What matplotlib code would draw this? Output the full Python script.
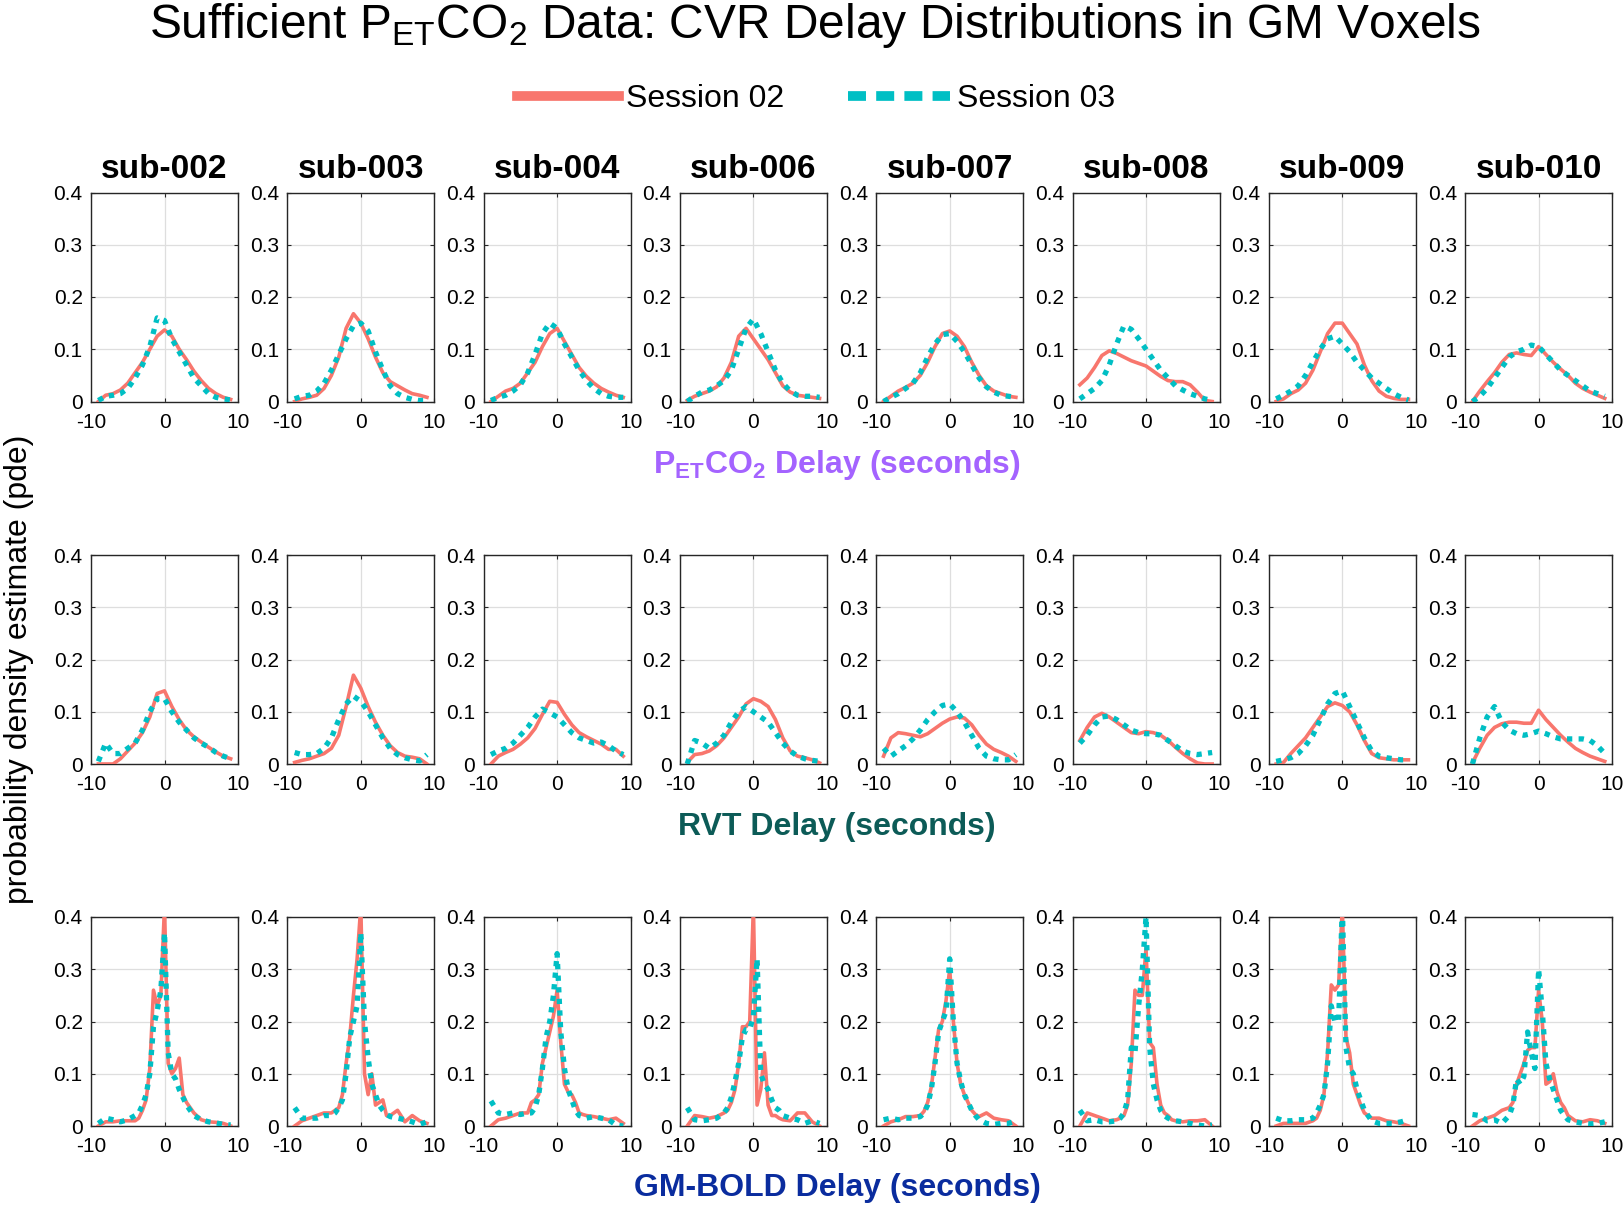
import matplotlib
matplotlib.use('Agg')
import matplotlib.pyplot as plt
from matplotlib.lines import Line2D

plt.rcParams['font.family'] = ['Liberation Sans', 'DejaVu Sans']
plt.rcParams['mathtext.fontset'] = 'custom'
plt.rcParams['mathtext.rm'] = 'Liberation Sans'
plt.rcParams['mathtext.bf'] = 'Liberation Sans:bold'
plt.rcParams['axes.unicode_minus'] = False

# ---------------- data ----------------
subjects = ['sub-002', 'sub-003', 'sub-004', 'sub-006', 'sub-007', 'sub-008', 'sub-009', 'sub-010']
sessions = ['Session 02', 'Session 03']

x_smooth = [-9, -8, -7, -6, -5, -4, -3, -2, -1, 0, 1, 2, 3, 4, 5, 6, 7, 8, 9]
x_bold = [-9, -8, -7, -6, -5, -4, -3.5, -3, -2.5, -2, -1.5, -1, -0.5, 0, 0.5, 1, 1.5, 2, 2.5, 3, 3.5, 4, 5, 6, 7, 8, 9]

petco2_s02 = [
    [0, .012, .015, .022, .035, .055, .075, .10, .125, .137, .125, .10, .08, .058, .04, .025, .015, .008, .004],
    [0, .005, .008, .012, .025, .05, .085, .14, .168, .15, .12, .085, .055, .038, .03, .022, .015, .012, .008],
    [0, .01, .02, .025, .035, .055, .075, .105, .13, .14, .115, .09, .065, .048, .035, .025, .018, .012, .008],
    [.002, .01, .015, .02, .028, .045, .075, .125, .14, .12, .10, .08, .055, .03, .018, .012, .01, .008, .006],
    [0, .01, .02, .027, .035, .05, .075, .105, .13, .135, .125, .105, .075, .05, .03, .02, .015, .01, .008],
    [.032, .045, .065, .088, .097, .092, .085, .078, .073, .068, .058, .048, .04, .038, .038, .032, .018, .002, 0],
    [0, .005, .015, .022, .035, .06, .095, .13, .15, .15, .13, .11, .07, .04, .02, .01, .006, .004, .004],
    [0, .02, .038, .055, .075, .09, .093, .09, .088, .105, .09, .075, .062, .05, .035, .025, .018, .012, .006],
]
petco2_s03 = [
    [.002, .01, .012, .015, .025, .045, .07, .105, .16, .155, .12, .095, .07, .045, .03, .015, .008, .005, .003],
    [.005, .01, .012, .02, .035, .06, .09, .12, .145, .15, .135, .095, .06, .03, .015, .008, .004, .002, .002],
    [.002, .008, .012, .02, .032, .055, .09, .13, .15, .14, .11, .085, .06, .04, .025, .015, .01, .008, .008],
    [0, .01, .018, .022, .03, .04, .06, .10, .14, .158, .13, .095, .06, .035, .02, .012, .01, .01, .008],
    [0, .008, .015, .025, .035, .055, .085, .11, .128, .13, .115, .095, .07, .045, .028, .018, .012, .01, .008],
    [.005, .015, .025, .04, .07, .11, .145, .138, .12, .10, .08, .06, .045, .03, .022, .015, .01, .005, .002],
    [.005, .012, .02, .03, .05, .075, .10, .12, .125, .11, .095, .075, .06, .045, .035, .025, .015, .008, .003],
    [0, .01, .025, .045, .065, .085, .095, .10, .108, .105, .09, .075, .06, .05, .04, .03, .02, .015, .01],
]

rvt_s02 = [
    [0, 0, 0, .01, .025, .04, .06, .09, .135, .14, .11, .085, .065, .052, .042, .032, .023, .015, .01],
    [.003, .007, .01, .015, .02, .03, .055, .11, .17, .145, .11, .08, .055, .035, .022, .015, .013, .01, 0],
    [0, .015, .022, .028, .038, .05, .068, .095, .12, .118, .095, .075, .06, .052, .045, .038, .028, .028, .015],
    [.003, .018, .02, .025, .035, .05, .07, .09, .115, .125, .12, .11, .085, .05, .025, .015, .012, .008, .002],
    [.015, .05, .06, .058, .055, .052, .058, .068, .078, .086, .09, .088, .075, .055, .038, .028, .022, .015, .005],
    [.045, .07, .09, .097, .09, .08, .07, .06, .058, .062, .06, .055, .045, .032, .02, .01, .002, 0, 0],
    [0, .003, .02, .035, .05, .07, .09, .11, .117, .112, .10, .075, .045, .02, .012, .01, .008, .008, .008],
    [.002, .03, .055, .07, .077, .08, .08, .078, .078, .103, .085, .07, .055, .042, .03, .022, .015, .01, .005],
]
rvt_s03 = [
    [.005, .04, .02, .02, .03, .04, .065, .10, .125, .125, .10, .08, .065, .05, .04, .032, .022, .015, .01],
    [.022, .018, .018, .02, .03, .05, .085, .115, .13, .12, .10, .075, .05, .03, .018, .012, .008, .006, .018],
    [.018, .025, .03, .04, .055, .07, .09, .105, .098, .09, .075, .06, .05, .045, .04, .042, .035, .025, .018],
    [0, .045, .04, .03, .04, .055, .08, .10, .11, .10, .09, .08, .06, .04, .025, .015, .01, .007, .005],
    [.03, .015, .025, .035, .048, .065, .085, .10, .112, .115, .10, .08, .055, .03, .015, .01, .008, .008, .018],
    [.04, .055, .075, .09, .092, .085, .075, .065, .06, .058, .058, .055, .045, .035, .025, .02, .018, .02, .022],
    [.005, .008, .012, .02, .035, .055, .085, .115, .135, .14, .11, .08, .05, .025, .015, .012, .01, .008, .008],
    [0, .05, .09, .11, .08, .065, .058, .055, .058, .063, .058, .052, .048, .048, .048, .048, .045, .035, .02],
]

bold_s02 = [
    [0, .008, .008, .01, .01, .01, .015, .03, .05, .11, .26, .23, .25, .42, .12, .10, .11, .13, .06, .045, .035, .025, .012, .008, .007, .005, 0],
    [0, .01, .015, .02, .025, .025, .03, .035, .06, .12, .17, .25, .32, .42, .10, .06, .10, .04, .045, .05, .02, .02, .03, .008, .02, .01, .005],
    [0, .012, .015, .02, .025, .025, .045, .05, .06, .12, .15, .18, .21, .26, .16, .08, .065, .06, .045, .025, .022, .02, .018, .015, .012, .015, .005],
    [0, .02, .018, .015, .018, .025, .03, .045, .07, .12, .19, .19, .20, .42, .04, .07, .14, .04, .02, .02, .015, .012, .01, .025, .025, .008, 0],
    [0, .008, .012, .018, .018, .02, .028, .045, .075, .13, .185, .20, .24, .30, .20, .12, .08, .06, .045, .03, .022, .018, .025, .015, .012, .01, 0],
    [0, .025, .02, .015, .01, .012, .015, .02, .04, .12, .26, .25, .25, .34, .16, .15, .08, .04, .025, .02, .012, .01, .008, .01, .01, .012, 0],
    [0, .005, .005, .005, .005, .01, .015, .03, .06, .14, .27, .26, .27, .42, .17, .14, .08, .06, .04, .025, .02, .015, .015, .01, .008, .005, 0],
    [0, .01, .015, .02, .03, .035, .045, .08, .10, .12, .145, .15, .15, .26, .20, .08, .085, .10, .065, .045, .035, .02, .01, .008, .012, .01, .005],
]
bold_s03 = [
    [.005, .015, .012, .008, .012, .02, .025, .04, .06, .10, .19, .22, .26, .37, .14, .10, .09, .07, .055, .04, .03, .02, .012, .008, .006, .003, .002],
    [.035, .015, .015, .015, .02, .02, .025, .035, .05, .10, .17, .20, .23, .37, .20, .13, .08, .06, .04, .03, .022, .018, .015, .012, .008, .003, .008],
    [.048, .025, .022, .025, .022, .025, .025, .035, .06, .11, .17, .20, .25, .33, .18, .11, .07, .05, .03, .02, .018, .015, .018, .015, .012, .002, 0],
    [.035, .012, .01, .012, .015, .025, .035, .055, .085, .12, .17, .185, .185, .21, .32, .10, .08, .07, .05, .035, .03, .02, .015, .012, .005, .01, .005],
    [.012, .015, .012, .015, .015, .018, .025, .04, .07, .12, .18, .20, .22, .32, .20, .12, .085, .06, .045, .03, .02, .012, .005, .003, .005, .005, .01],
    [.03, .01, .012, .008, .008, .01, .015, .025, .05, .15, .14, .23, .30, .40, .15, .08, .05, .03, .02, .015, .012, .01, .008, .005, .002, 0, .002],
    [.015, .01, .01, .012, .012, .015, .025, .04, .06, .12, .23, .20, .20, .42, .15, .11, .10, .07, .05, .03, .02, .01, .005, .005, .005, .008, .012],
    [.022, .02, .01, .012, .005, .02, .04, .09, .08, .095, .18, .14, .11, .30, .22, .12, .09, .07, .05, .03, .02, .012, .008, .005, .004, .005, .008],
]

row_labels = [r'P$_{\mathbf{ET}}$CO$_{\mathbf{2}}$ Delay (seconds)', 'RVT Delay (seconds)', 'GM-BOLD Delay (seconds)']
row_label_colors = ['#A463FF', '#0C5B57', '#0A2C9E']
x_ticks = [-10, 0, 10]
y_ticks = [0, 0.1, 0.2, 0.3, 0.4]
y_tick_labels = ['0', '0.1', '0.2', '0.3', '0.4']

# ---------------- style ----------------
RED = '#F8766D'
TEAL = '#00BFC4'
W, H = 1623, 1207

fig = plt.figure(figsize=(W / 100, H / 100), dpi=100)

rows = [(x_smooth, petco2_s02, petco2_s03),
        (x_smooth, rvt_s02, rvt_s03),
        (x_bold, bold_s02, bold_s03)]
row_tops = [192.5, 555, 917]
ax_h = 209
ax_w = 147
col_left0 = 91
col_step = 196.3

for r, (xs, s02, s03) in enumerate(rows):
    for c in range(len(subjects)):
        left = col_left0 + c * col_step
        ax = fig.add_axes([left / W, 1 - (row_tops[r] + ax_h) / H, ax_w / W, ax_h / H])
        ax.plot(xs, s02[c], color=RED, lw=2.6, solid_joinstyle='round', zorder=3)
        ax.plot(xs, s03[c], color=TEAL, lw=3.8, linestyle=(0, (1, 1.2)), zorder=4)
        ax.set_xlim(-10, 10)
        ax.set_ylim(0, 0.4)
        ax.set_xticks(x_ticks)
        ax.set_xticklabels([str(t) for t in x_ticks])
        ax.set_yticks(y_ticks)
        ax.set_yticklabels(y_tick_labels)
        ax.grid(True, color='#dedede', lw=0.9)
        ax.set_axisbelow(True)
        for sp in ax.spines.values():
            sp.set_color('#262626')
            sp.set_linewidth(1.0)
        ax.tick_params(direction='in', length=3, width=0.8, top=True, right=True,
                       labelsize=15, colors='#262626', labelcolor='black')
        ax.tick_params(axis='x', pad=8)
        ax.tick_params(axis='y', pad=6)
        if r == 0:
            fig.text((left + ax_w / 2) / W, 1 - 169 / H, subjects[c], ha='center', va='center',
                     fontsize=24, fontweight='bold')

row_label_y = [465, 827, 1188]
for r in range(3):
    fig.text(837 / W, 1 - row_label_y[r] / H, row_labels[r], ha='center', va='center',
             fontsize=23, fontweight='bold', color=row_label_colors[r])

fig.text(19 / W, 1 - 669 / H, 'probability density estimate (pde)', rotation=90,
         ha='center', va='center', fontsize=23)

fig.text(815 / W, 1 - 26 / H,
         r'Sufficient P$_{\mathrm{ET}}$CO$_{\mathrm{2}}$ Data: CVR Delay Distributions in GM Voxels',
         ha='center', va='center', fontsize=34.5)

handles = [Line2D([], [], color=RED, lw=7),
           Line2D([], [], color=TEAL, lw=7, linestyle=(0, (1.85, 1.05)))]
fig.legend(handles, sessions, loc='center', bbox_to_anchor=(816 / W, 1 - 99 / H), ncol=2,
           frameon=False, fontsize=23, handlelength=3.2, handletextpad=0.2, columnspacing=2.0)

fig.savefig('out.png', dpi=100)
